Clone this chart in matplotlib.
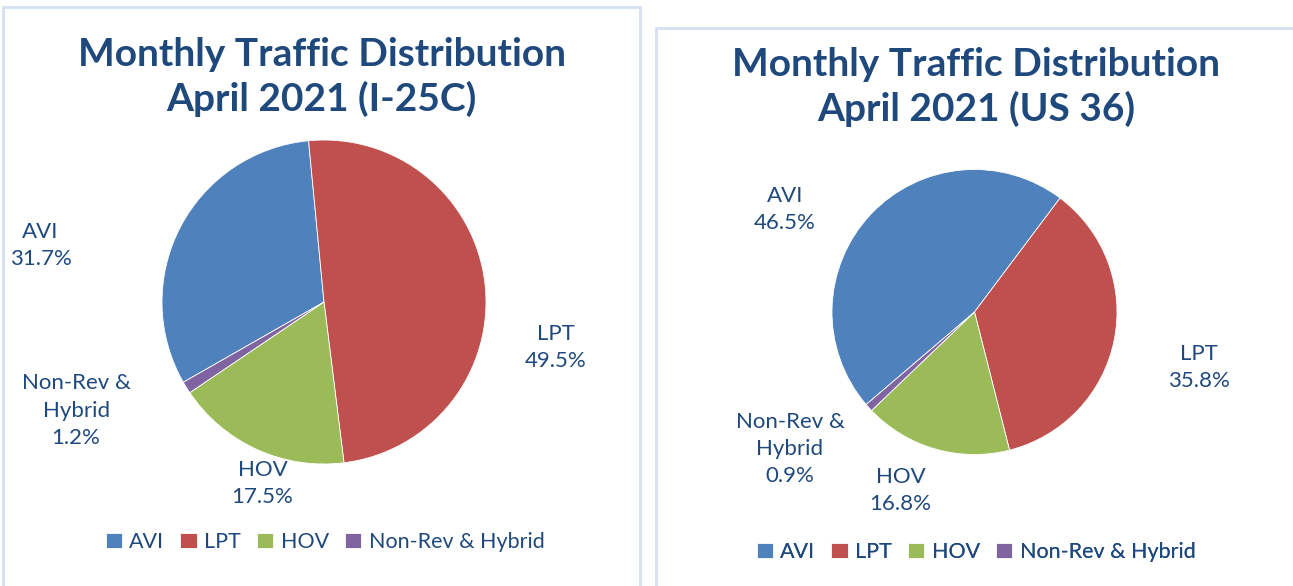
import matplotlib.pyplot as plt
from matplotlib.patches import Rectangle

# ── data ─────────────────────────────────────────────────────────────────────
categories   = ["AVI", "LPT", "HOV", "Non-Rev & Hybrid"]
label_names  = ["AVI", "LPT", "HOV", "Non-Rev &\nHybrid"]
i25c_share   = [31.7, 49.5, 17.5, 1.2]
us36_share   = [46.5, 35.8, 16.8, 0.9]
titles       = ["Monthly Traffic Distribution\nApril 2021 (I-25C)",
                "Monthly Traffic Distribution\nApril 2021 (US 36)"]

# ── style / layout (pixel coords, y from top) ───────────────────────────────
COLORS = ["#4F81BD", "#C0504D", "#9BBB59", "#8064A2"]
TXT    = "#1F497D"
BORDER = "#D5E1F2"
W, H   = 1293, 586
FONT   = "Lato"

panels = [
    dict(data=i25c_share, title=titles[0], box=(3, 7, 637),
         center=(324, 302), r=162, start=-150.3, title_y=77, legend_y=542,
         legend_x=325,
         lab=[(-1.75, 0.35), (1.43, -0.28), (-0.38, -1.12), (-1.53, -0.67)]),
    dict(data=us36_share, title=titles[1], box=(656, 28, 640),
         center=(974.5, 312), r=142.5, start=-139.5, title_y=87, legend_y=552,
         legend_x=976,
         lab=[(-1.33, 0.72), (1.575, -0.39), (-0.52, -1.25), (-1.295, -0.96)]),
]

fig = plt.figure(figsize=(W / 100, H / 100), dpi=100)
ax = fig.add_axes([0, 0, 1, 1])

for p in panels:
    bx, by, bw = p["box"]
    ax.add_patch(Rectangle((bx, -10), bw, H - by + 10, fill=False,
                           ec=BORDER, lw=2.0, zorder=0))
    cx, cy = p["center"]
    cy = H - cy
    wedges, _ = ax.pie(p["data"], colors=COLORS, startangle=p["start"],
                       counterclock=False, center=(cx, cy), radius=p["r"],
                       wedgeprops=dict(ec="white", lw=0.6))
    for name, val, (dx, dy) in zip(label_names, p["data"], p["lab"]):
        ax.text(cx + dx * p["r"], cy + dy * p["r"], f"{name}\n{val:.1f}%",
                ha="center", va="center", color=TXT, fontsize=16,
                family=FONT, linespacing=1.45)
    ax.text(bx + bw / 2, H - p["title_y"], p["title"], ha="center",
            va="center", color=TXT, fontsize=28, fontweight="bold",
            family=FONT, linespacing=1.3)
    leg = ax.legend(wedges, categories, loc="center", ncol=4, frameon=False,
                    bbox_to_anchor=(p["legend_x"], H - p["legend_y"]),
                    bbox_transform=ax.transData, handlelength=0.75,
                    handleheight=0.75, handletextpad=0.35, columnspacing=0.75,
                    prop=dict(family=FONT, size=15.5), labelcolor=TXT)
    ax.add_artist(leg)

ax.set_xlim(0, W)
ax.set_ylim(0, H)
ax.set_aspect("equal")
ax.axis("off")

fig.savefig("out.png", dpi=100)
